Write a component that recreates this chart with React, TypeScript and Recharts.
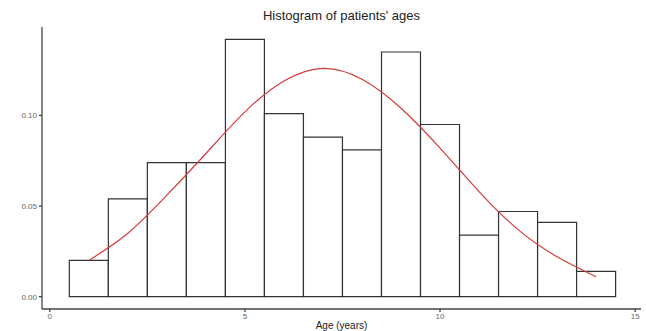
import { Bar, ComposedChart, Line, XAxis, YAxis } from 'recharts';

// bin centres (bins are 1 year wide, 0.5 to 14.5)
const ages = [1, 2, 3, 4, 5, 6, 7, 8, 9, 10, 11, 12, 13, 14];
// histogram density per bin
const density = [0.020, 0.054, 0.074, 0.074, 0.142, 0.101, 0.088, 0.081, 0.135, 0.095, 0.034, 0.047, 0.041, 0.014];
const curve = [0.020, 0.035, 0.056, 0.079, 0.102, 0.119, 0.126, 0.120, 0.104, 0.082, 0.058, 0.037, 0.022, 0.011];

const xTicks = [0, 5, 10, 15];
const yTicks = [0, 0.05, 0.1];

const data = ages.map((age, i) => ({ age, density: density[i], curve: curve[i] }));

const font = '"Liberation Sans", Arial, sans-serif';

export default function App() {
    return (
        <div style={{ position: 'absolute', left: 0, top: 0, width: 646, height: 331, background: '#fff', fontFamily: font }}>
            <div
                style={{
                    position: 'absolute',
                    top: 8,
                    left: 42,
                    width: 599,
                    textAlign: 'center',
                    fontSize: 13,
                    color: '#222',
                }}
            >
                Histogram of patients' ages
            </div>
            <ComposedChart
                width={646}
                height={331}
                data={data}
                barCategoryGap={0}
                margin={{ top: 27, right: 5, left: 0, bottom: 0 }}
            >
                <XAxis
                    dataKey="age"
                    type="number"
                    domain={[-0.2, 15.15]}
                    ticks={xTicks}
                    allowDataOverflow
                    height={22}
                    tickSize={3}
                    stroke="#444"
                    strokeWidth={1.3}
                    tick={{ fontSize: 8, fill: '#666', fontFamily: font }}
                    tickMargin={1}
                    label={{ value: 'Age (years)', position: 'insideBottom', offset: 2, fontSize: 10, fill: '#222', fontFamily: font }}
                />
                <YAxis
                    type="number"
                    domain={[-0.0068, 0.1488]}
                    ticks={yTicks}
                    allowDataOverflow
                    width={42}
                    tickSize={3}
                    stroke="#444"
                    strokeWidth={1.3}
                    tick={{ fontSize: 8, fill: '#666', fontFamily: font }}
                    tickMargin={2}
                    tickFormatter={(v) => v.toFixed(2)}
                />
                <Bar dataKey="density" fill="#fff" stroke="#333" strokeWidth={1.2} isAnimationActive={false} />
                <Line
                    dataKey="curve"
                    type="natural"
                    stroke="#d63a3a"
                    strokeWidth={1.2}
                    dot={false}
                    isAnimationActive={false}
                />
            </ComposedChart>
        </div>
    );
}
